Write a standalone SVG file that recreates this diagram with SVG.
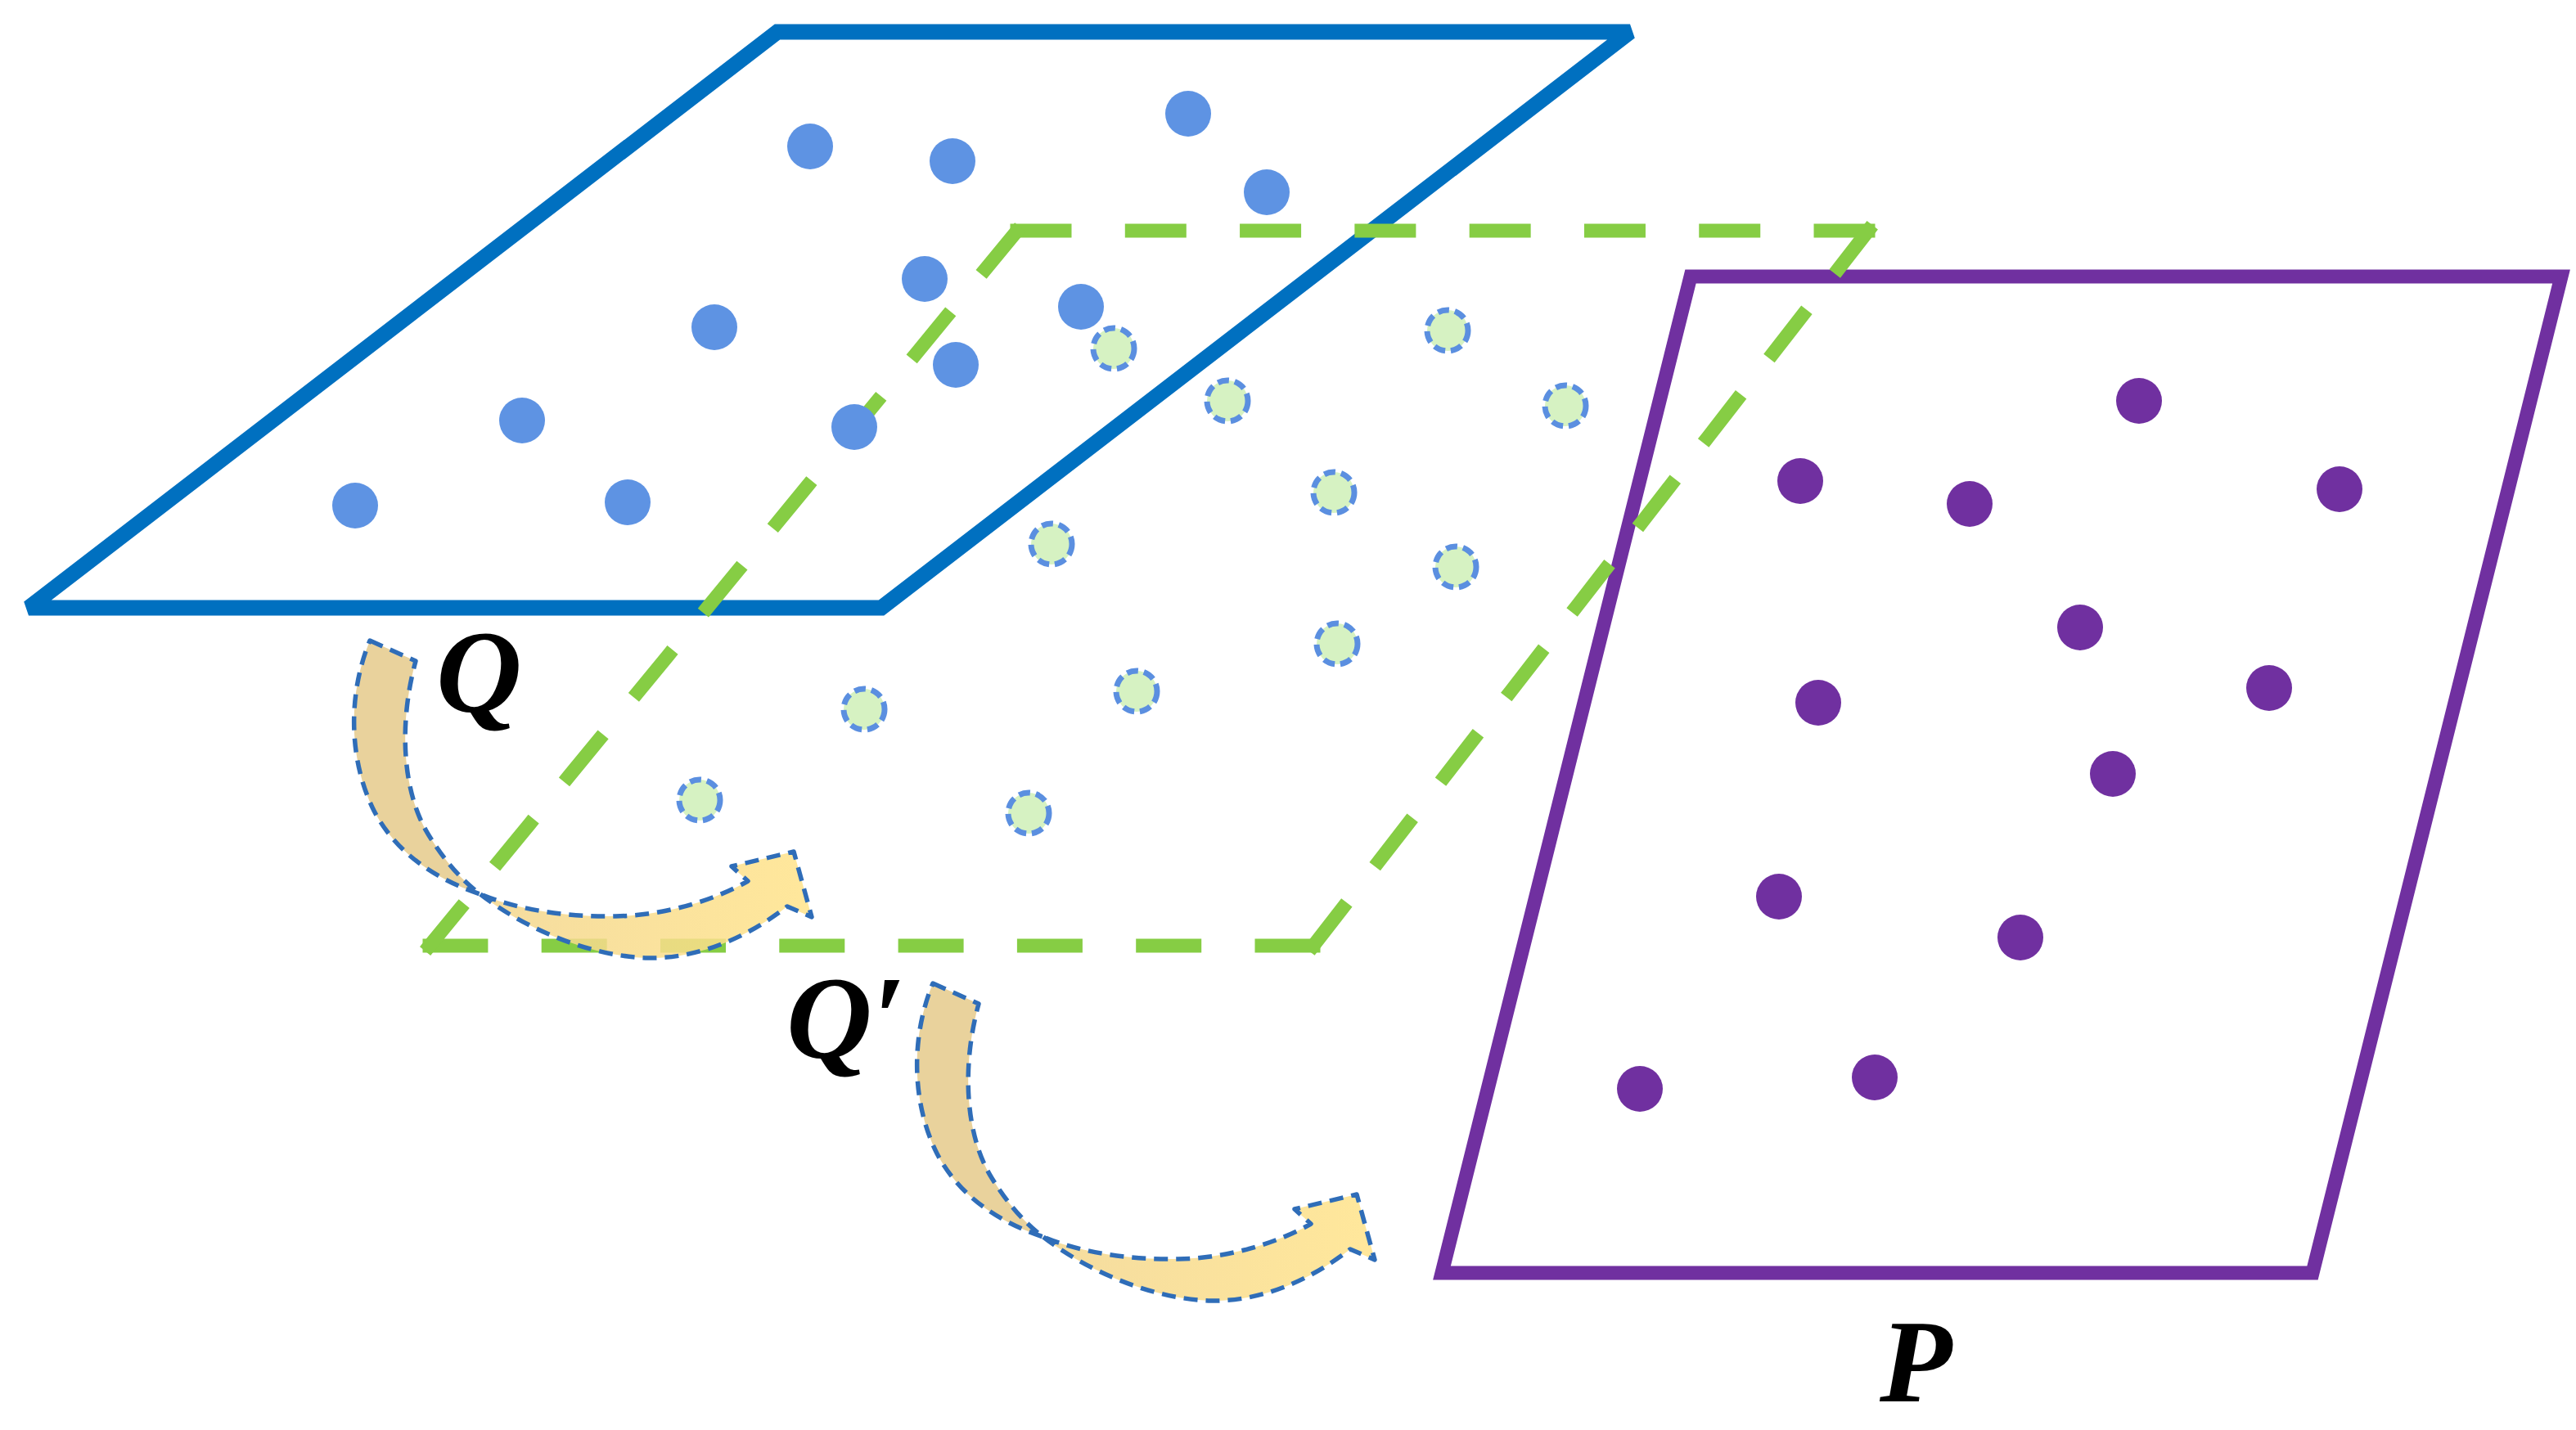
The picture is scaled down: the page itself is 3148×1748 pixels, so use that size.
<svg xmlns="http://www.w3.org/2000/svg" width="3148" height="1748" viewBox="0 0 3148 1748">
<style>
.frameQ{fill:none;stroke:#0070C0;stroke-width:19;stroke-linejoin:miter;stroke-miterlimit:2}
.frameP{fill:none;stroke:#7030A0;stroke-width:17;stroke-linejoin:miter}
.gl{stroke:#86CD44;stroke-width:17;stroke-linecap:square;fill:none}
.dq{fill:#5E93E3}
.dp{fill:#7030A0}
.dg{fill:#D6F2C2;stroke:#5B8FE0;stroke-width:7;stroke-dasharray:14 7}
.back{fill:#E6CC8E;fill-opacity:0.88}
.front{fill:url(#fg);fill-opacity:0.85}
.aol{fill:none;stroke:#2F6DB8;stroke-width:5.5;stroke-dasharray:17 10;stroke-linejoin:round}
.lbl{font-family:"Liberation Serif","DejaVu Serif",serif;font-weight:bold;font-style:italic;font-size:145px;fill:#000}
</style>
<defs>
<linearGradient id="fg" gradientUnits="userSpaceOnUse" x1="1275" y1="1512" x2="1670" y2="1500">
<stop offset="0" stop-color="#F3D68E"/>
<stop offset="1" stop-color="#FFE38A"/>
</linearGradient>
<g id="arrowShape">
<path class="back" d="M1140,1202 L1196,1227 C1176,1300 1178,1385 1212,1440 C1232,1472 1252,1495 1275,1512 C1215,1492 1170,1458 1145,1410 C1115,1350 1112,1270 1140,1202 Z"/>
<path class="aol" d="M1140,1202 L1196,1227 C1176,1300 1178,1385 1212,1440 C1232,1472 1252,1495 1275,1512 C1215,1492 1170,1458 1145,1410 C1115,1350 1112,1270 1140,1202 Z"/>
<path class="front" d="M1275,1512 C1330,1555 1410,1588 1480,1590 C1545,1591 1605,1562 1650,1527 L1680,1540 L1658,1460 L1582,1478 L1602,1496 C1560,1520 1500,1538 1440,1539 C1380,1540 1320,1531 1275,1512 Z"/>
<path class="aol" d="M1275,1512 C1330,1555 1410,1588 1480,1590 C1545,1591 1605,1562 1650,1527 L1680,1540 L1658,1460 L1582,1478 L1602,1496 C1560,1520 1500,1538 1440,1539 C1380,1540 1320,1531 1275,1512 Z"/>
</g>
</defs>
<rect width="3148" height="1748" fill="#ffffff"/>

<g id="node-Q">
<polygon class="frameQ" points="950,39 1992,39 1077,743 35,743"/>
</g>

<g id="node-P">
<polygon class="frameP" points="2066,338 3130,338 2826,1556 1762,1556"/>
<circle class="dp" cx="2614" cy="490" r="28"/>
<circle class="dp" cx="2200" cy="588" r="28"/>
<circle class="dp" cx="2407" cy="616" r="28"/>
<circle class="dp" cx="2859" cy="598" r="28"/>
<circle class="dp" cx="2542" cy="767" r="28"/>
<circle class="dp" cx="2222" cy="859" r="28"/>
<circle class="dp" cx="2773" cy="841" r="28"/>
<circle class="dp" cx="2582" cy="946" r="28"/>
<circle class="dp" cx="2174" cy="1096" r="28"/>
<circle class="dp" cx="2469" cy="1146" r="28"/>
<circle class="dp" cx="2004" cy="1331" r="28"/>
<circle class="dp" cx="2291" cy="1317" r="28"/>
</g>

<g id="node-Qprime">
<line class="gl" x1="1243" y1="282" x2="2283" y2="282" stroke-dasharray="58 82.29"/>
<line class="gl" x1="2283" y1="282" x2="1605" y2="1156" stroke-dasharray="58 73"/>
<line class="gl" x1="1605" y1="1156" x2="525" y2="1156" stroke-dasharray="63 82.3"/>
<line class="gl" x1="525" y1="1156" x2="1243" y2="282" stroke-dasharray="58 75.8"/>
<circle class="dg" cx="1769" cy="404" r="25"/>
<circle class="dg" cx="1500" cy="490" r="25"/>
<circle class="dg" cx="1913" cy="496" r="25"/>
<circle class="dg" cx="1630" cy="602" r="25"/>
<circle class="dg" cx="1285" cy="665" r="25"/>
<circle class="dg" cx="1779" cy="693" r="25"/>
<circle class="dg" cx="1634" cy="787" r="25"/>
<circle class="dg" cx="1389" cy="845" r="25"/>
<circle class="dg" cx="1056" cy="867" r="25"/>
<circle class="dg" cx="855" cy="978" r="25"/>
<circle class="dg" cx="1257" cy="994" r="25"/>
</g>

<g id="node-Q-points">
<circle class="dq" cx="990" cy="179" r="28"/>
<circle class="dq" cx="1164" cy="197" r="28"/>
<circle class="dq" cx="1452" cy="139" r="28"/>
<circle class="dq" cx="1548" cy="235" r="28"/>
<circle class="dq" cx="1130" cy="341" r="28"/>
<circle class="dq" cx="1321" cy="375" r="28"/>
<circle class="dq" cx="873" cy="400" r="28"/>
<circle class="dq" cx="1168" cy="446" r="28"/>
<circle class="dq" cx="638" cy="514" r="28"/>
<circle class="dq" cx="1044" cy="522" r="28"/>
<circle class="dq" cx="434" cy="618" r="28"/>
<circle class="dq" cx="767" cy="614" r="28"/>
<circle class="dg" cx="1361" cy="426" r="25"/>
</g>

<g id="connectors">
<use href="#arrowShape" transform="translate(-688,-419)"/>
<use href="#arrowShape"/>
</g>

<g id="labels">
<text class="lbl" x="533" y="870">Q</text>
<text class="lbl" x="961" y="1293">Q′</text>
<text class="lbl" x="2297" y="1713">P</text>
</g>
</svg>
